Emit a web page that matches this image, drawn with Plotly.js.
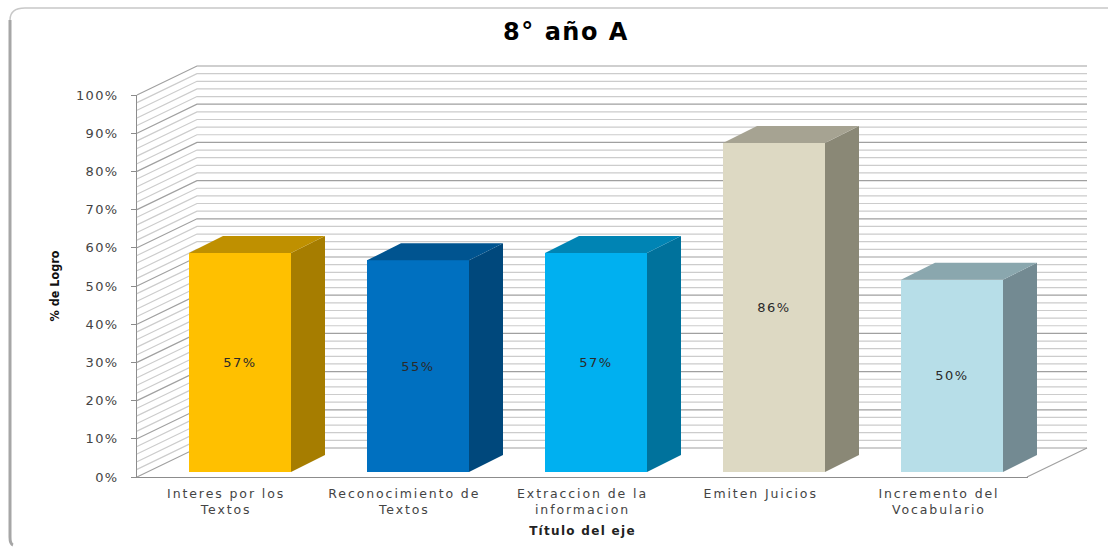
<!DOCTYPE html>
<html>
<head>
<meta charset="utf-8">
<script src="https://cdn.plot.ly/plotly-3.0.1.min.js"></script>
<style>
html,body{margin:0;padding:0;background:#fff}#chart{width:1108px;height:548px}
.xtick text{letter-spacing:1.9px}
.ytick text{letter-spacing:1.3px}
.bartext{letter-spacing:1.5px}
.gtitle{letter-spacing:1.5px}
.xtitle{letter-spacing:1.3px}
</style>
</head>
<body>
<div id="chart"></div>
<script>
var categories = ["Interes por los<br>Textos", "Reconocimiento de<br>Textos", "Extraccion de la<br>informacion", "Emiten Juicios", "Incremento del<br>Vocabulario"];
var logro = [57.3, 55.4, 57.3, 86.1, 50.3];
var valueLabels = ["57%", "55%", "57%", "86%", "50%"];
var yTicks = [0, 10, 20, 30, 40, 50, 60, 70, 80, 90, 100];
var yTickLabels = ["0%", "10%", "20%", "30%", "40%", "50%", "60%", "70%", "80%", "90%", "100%"];
var frontColors = ["#FFC000", "#0070C0", "#00B0F0", "#DDD9C3", "#B7DEE8"];
var topColors = ["#BF9000", "#005490", "#0084B4", "#A6A392", "#8AA7AE"];
var sideColors = ["#A67D00", "#00487C", "#00729C", "#8A8876", "#738A92"];

var FONT = "DejaVu Sans";
var W = 1108, H = 548;
var pxX = 178, pxV = 3.82;
var originX = 226, originY = 477;
var wallX = 60 / pxX, wallV = 29 / pxV;
var shiftX = 14 / pxX, shiftV = 5 / pxV;
var depthX = 34 / pxX, depthV = 17 / pxV;
var barW = 102 / pxX;
var xMin = -0.5, xMax = 4.5;
var wideX = [-originX / pxX, (W - originX) / pxX];
var wideY = [(originY - H) / pxV, originY / pxV];
var idx = categories.map(function (_, i) { return i; });
var traces = [];

// keeps the visible axes alive: an undrawn copy of the series on the labelled x/y pair
traces.push({
  type: "scatter", mode: "lines", xaxis: "x", yaxis: "y", hoverinfo: "skip", showlegend: false,
  x: idx, y: logro, line: { width: 0, color: "rgba(0,0,0,0)" }
});

function gridLine(v, color, width) {
  return {
    type: "scatter", mode: "lines", xaxis: "x2", yaxis: "y2", hoverinfo: "skip", showlegend: false,
    x: [xMin, xMin + wallX, xMax + wallX],
    y: [v, v + wallV, v + wallV],
    line: { color: color, width: width }
  };
}
for (var g = 0; g <= 100; g += 2) {
  if (g % 10 !== 0) traces.push(gridLine(g, "#cccccc", 1.2));
}
yTicks.forEach(function (v) { traces.push(gridLine(v, "#a0a0a0", 1.2)); });
traces.push({
  type: "scatter", mode: "lines", xaxis: "x2", yaxis: "y2", hoverinfo: "skip", showlegend: false,
  x: [xMax, xMax + wallX], y: [0, wallV], line: { color: "#a0a0a0", width: 1.2 }
});

traces.push({
  type: "bar", xaxis: "x3", yaxis: "y3", showlegend: false, hoverinfo: "skip",
  x: idx.map(function (i) { return i + shiftX; }),
  y: logro,
  base: logro.map(function () { return shiftV; }),
  width: barW,
  marker: { color: frontColors, line: { width: 0 } },
  text: valueLabels,
  textposition: "inside",
  insidetextanchor: "middle",
  textangle: 0,
  constraintext: "none",
  insidetextfont: { family: FONT, size: 13, color: "#2a2a2a" }
});

idx.forEach(function (i) {
  var x0 = i + shiftX - barW / 2, x1 = i + shiftX + barW / 2;
  var b = shiftV, t = shiftV + logro[i];
  traces.push({
    type: "scatter", mode: "lines", fill: "toself", xaxis: "x3", yaxis: "y3", hoverinfo: "skip", showlegend: false,
    x: [x1, x1 + depthX, x1 + depthX, x1, x1],
    y: [b, b + depthV, t + depthV, t, b],
    fillcolor: sideColors[i], line: { width: 0, color: sideColors[i] }
  });
  traces.push({
    type: "scatter", mode: "lines", fill: "toself", xaxis: "x3", yaxis: "y3", hoverinfo: "skip", showlegend: false,
    x: [x0, x1, x1 + depthX, x0 + depthX, x0],
    y: [t, t, t + depthV, t + depthV, t],
    fillcolor: topColors[i], line: { width: 0, color: topColors[i] }
  });
});

var fx = function (px) { return px / W; };
var fy = function (px) { return 1 - px / H; };

function wideAxis(range, anchor) {
  return { domain: [0, 1], anchor: anchor, range: range, visible: false, fixedrange: true };
}

var layout = {
  width: W, height: H,
  paper_bgcolor: "#ffffff", plot_bgcolor: "rgba(0,0,0,0)",
  margin: { l: 0, r: 0, t: 0, b: 0, pad: 0, autoexpand: false },
  showlegend: false,
  bargap: 0,
  title: { text: "8° año A", font: { family: FONT, size: 24, color: "#000", weight: 700 }, x: fx(566), xref: "paper", xanchor: "center", y: fy(32), yref: "paper", yanchor: "middle", pad: { t: 0, b: 0, l: 0, r: 0 } },
  xaxis: {
    domain: [fx(137), fx(1028)], anchor: "y",
    range: [xMin, xMax], tickmode: "array", tickvals: idx, ticktext: categories,
    showgrid: false, zeroline: false, showline: true, linecolor: "#8c8c8c", linewidth: 1,
    ticks: "", ticklabelstandoff: 5,
    tickfont: { family: FONT, size: 12.5, color: "#444" },
    title: { text: "Título del eje", font: { family: FONT, size: 12, color: "#222", weight: 700 }, standoff: 10 }
  },
  yaxis: {
    domain: [fy(477), fy(95)], anchor: "x",
    range: [0, 100], tickmode: "array", tickvals: yTicks, ticktext: yTickLabels,
    showgrid: false, zeroline: false, showline: true, linecolor: "#8c8c8c", linewidth: 1,
    ticks: "outside", ticklen: 5, tickcolor: "#8c8c8c", ticklabelstandoff: 10,
    tickfont: { family: FONT, size: 13, color: "#444" },
    title: { text: "% de Logro", font: { family: "DejaVu Sans Condensed", size: 12.5, color: "#111", weight: 700 }, standoff: 13 }
  },
  xaxis2: wideAxis(wideX, "y2"),
  yaxis2: wideAxis(wideY, "x2"),
  xaxis3: wideAxis(wideX, "y3"),
  yaxis3: wideAxis(wideY, "x3"),
  shapes: [
    { type: "path", xref: "paper", yref: "paper", layer: "below", line: { color: "#a6a6a6", width: 3 },
      path: "M " + fx(13) + " " + fy(545) + " Q " + fx(10) + " " + fy(544) + " " + fx(10) + " " + fy(537) +
            " L " + fx(10) + " " + fy(20) },
    { type: "path", xref: "paper", yref: "paper", layer: "below", line: { color: "#c8c8c8", width: 1.5 },
      path: "M " + fx(10) + " " + fy(20) + " Q " + fx(10) + " " + fy(8) + " " + fx(25) + " " + fy(8) + " L 1 " + fy(8) }
  ]
};

Plotly.newPlot("chart", traces, layout, { displayModeBar: false, staticPlot: true });
</script>
</body>
</html>
